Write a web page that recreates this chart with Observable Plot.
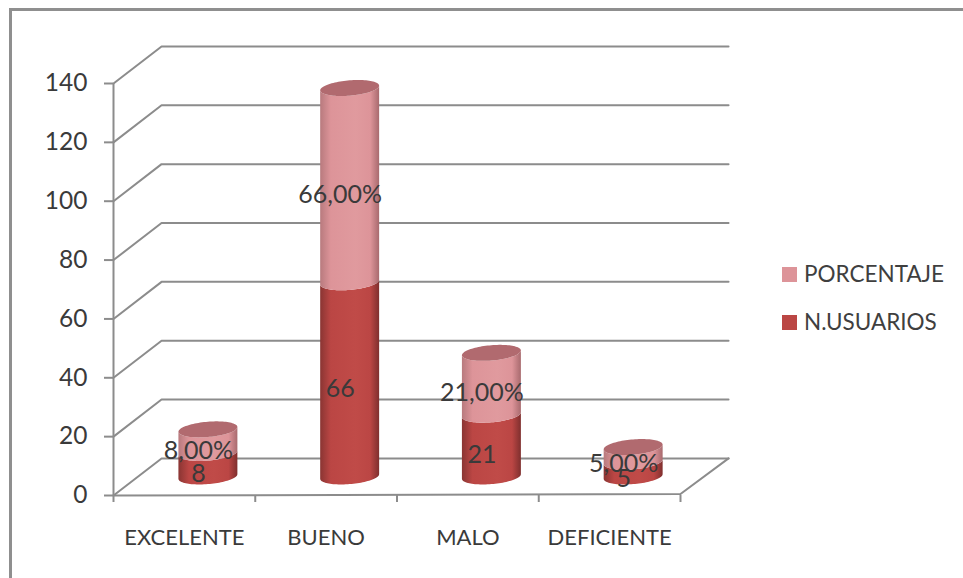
<!DOCTYPE html>
<html lang="es">
<head>
<meta charset="utf-8">
<title>Usuarios por valoración</title>
<script src="https://cdn.jsdelivr.net/npm/d3@7"></script>
<script src="https://cdn.jsdelivr.net/npm/@observablehq/plot@0.6"></script>
<style>
  html, body { margin: 0; padding: 0; background: #fff; overflow: hidden; }
  #lienzo { position: relative; width: 963px; height: 578px; font-family: Lato, sans-serif; color: #3f3f3f; }
  #marco { position: absolute; left: 9px; top: 8px; right: 0; bottom: 0; border-left: 3px solid #8f8f8f; border-top: 3px solid #8f8f8f; }
  #leyenda { position: absolute; left: 782px; top: 250px; font-size: 22.5px; line-height: 48px; }
  #leyenda div { display: flex; align-items: center; height: 48px; }
  #leyenda i { display: block; width: 15px; height: 15px; margin-right: 7px; }
</style>
</head>
<body>
<div id="lienzo">
  <div id="marco"></div>
  <div id="grafico"></div>
  <div id="leyenda"></div>
</div>
<script>
const categorias = ["EXCELENTE", "BUENO", "MALO", "DEFICIENTE"];
const usuarios = [8, 66, 21, 5];
const porcentaje = [8, 66, 21, 5];
const marcasY = [0, 20, 40, 60, 80, 100, 120, 140];
const marcasX = [0, 1, 2, 3, 4];

const colorUsuarios = "#bb4644";
const colorPorcentaje = "#dd9499";
const colorTapa = "#b16a6f";
const colorEje = "#8c8c8c";
const colorTexto = "#3a3a3a";

// Oblique projection of the chart's depth, in scale units
const fondoX = 0.339;
const fondoY = 12.6;
// Cylinder cross-section: half width, half height and tilt, in scale units
const radioX = 0.208;
const radioY = 2.6;
const giro = 0.8;

const formatoPct = v => v.toFixed(2).replace(".", ",") + "%";

// Each column sits halfway into the depth of the floor
const filas = categorias.map((categoria, i) => ({
  categoria,
  cx: i + 0.5 + fondoX / 2,
  base: fondoY / 2,
  medio: fondoY / 2 + usuarios[i],
  tope: fondoY / 2 + usuarios[i] + porcentaje[i],
  usuarios: usuarios[i],
  porcentaje: porcentaje[i]
}));

// Front half of an ellipse is what shows as the rounded lower edge of a body
const angulos = d3.range(0, 49).map(k => Math.PI + (k / 48) * Math.PI);
const borde = (a, nivel) => nivel + radioY * Math.sin(a) + giro * Math.cos(a);
const cuerpo = (desde, hasta) => filas.flatMap(f => angulos.map(a => ({
  id: f.categoria,
  x: f.cx + radioX * Math.cos(a),
  y1: borde(a, f[desde]),
  y2: borde(a, f[hasta])
})));
const tapas = filas.flatMap(f => angulos.map(a => ({
  id: f.categoria,
  x: f.cx + radioX * Math.cos(a),
  y1: f.tope + radioY * Math.sin(a) + giro * Math.cos(a),
  y2: f.tope - radioY * Math.sin(a) + giro * Math.cos(a)
})));

// Wall and floor lines: front edge, diagonal into depth, then along the back wall
const rejilla = marcasY.flatMap(v => [
  {v, x: 0, y: v},
  {v, x: fondoX, y: v + fondoY},
  {v, x: 4 + fondoX, y: v + fondoY}
]);
const piso = [
  {x: 0, y: 0},
  {x: 4, y: 0.5},
  {x: 4 + fondoX, y: fondoY}
];

// Horizontal shading that gives the columns their round look
function gradientes() {
  const defs = d3.create("svg:defs");
  const tonos = [
    ["rojo", "#8a3533", colorUsuarios, "#c04b48", "#7f2f2e"],
    ["rosa", "#b87a7e", colorPorcentaje, "#e09a9e", "#a86a6e"]
  ];
  for (const [id, a, b, c, d] of tonos) {
    const g = defs.append("linearGradient").attr("id", id);
    [[0, a], [0.18, b], [0.6, c], [0.85, b], [1, d]].forEach(([o, col]) =>
      g.append("stop").attr("offset", o).attr("stop-color", col));
  }
  return defs.node();
}

const rotulo = {
  x: "cx",
  dx: -10,
  dy: 9,
  fontSize: 25,
  fill: colorTexto,
  lineAnchor: "middle"
};

const plot = Plot.plot({
  width: 963,
  height: 578,
  marginLeft: 113,
  marginRight: 283,
  marginTop: 83,
  marginBottom: 83,
  style: {fontFamily: "Lato, sans-serif", background: "transparent", overflow: "visible"},
  x: {domain: [0, 4]},
  y: {domain: [0, 140]},
  marks: [
    gradientes,
    Plot.line(rejilla, {x: "x", y: "y", z: "v", stroke: colorEje, strokeWidth: 2}),
    Plot.line(piso, {x: "x", y: "y", stroke: colorEje, strokeWidth: 2}),
    Plot.ruleX([0], {y1: 0, y2: 140, stroke: colorEje, strokeWidth: 2}),
    Plot.axisY({
      ticks: marcasY, tickSize: 9, tickPadding: 17, label: null,
      stroke: colorEje, strokeWidth: 2, fill: colorTexto, fontSize: 24.5
    }),
    Plot.axisX({
      ticks: marcasX, tickSize: 7, tickFormat: () => "", label: null,
      stroke: colorEje, strokeWidth: 2
    }),
    Plot.area(cuerpo("base", "medio"), {x1: "x", y1: "y1", y2: "y2", z: "id", fill: "url(#rojo)"}),
    Plot.area(cuerpo("medio", "tope"), {x1: "x", y1: "y1", y2: "y2", z: "id", fill: "url(#rosa)"}),
    Plot.area(tapas, {x1: "x", y1: "y1", y2: "y2", z: "id", fill: colorTapa}),
    Plot.text(filas, {...rotulo, y: f => f.base + f.usuarios / 2, text: f => String(f.usuarios)}),
    Plot.text(filas, {...rotulo, y: f => f.medio + f.porcentaje / 2, text: f => formatoPct(f.porcentaje)}),
    Plot.text(filas, {
      x: f => categorias.indexOf(f.categoria) + 0.5,
      y: 0,
      dy: 42,
      text: "categoria",
      fontSize: 22,
      fill: colorTexto,
      lineAnchor: "middle"
    })
  ]
});
document.getElementById("grafico").append(plot);

// Legend entries, top series first
const leyenda = d3.select("#leyenda");
[["PORCENTAJE", colorPorcentaje], ["N.USUARIOS", colorUsuarios]].forEach(([nombre, color]) => {
  const fila = leyenda.append("div");
  fila.append("i").style("background", color);
  fila.append("span").text(nombre);
});
</script>
</body>
</html>
